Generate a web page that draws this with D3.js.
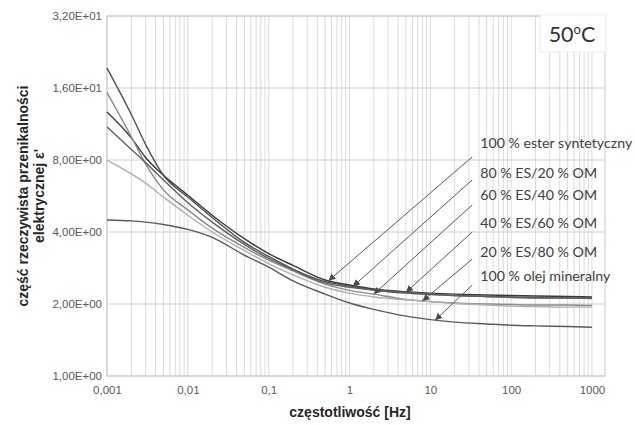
<!DOCTYPE html>
<html>
<head>
<meta charset="utf-8">
<script src="https://cdn.jsdelivr.net/npm/d3@7"></script>
<style>
  body { margin: 0; background: #fff; }
  svg { display: block; }
</style>
</head>
<body>
<div id="chart"></div>
<script>
// frequency points [Hz]
const freqs = [0.001, 0.002, 0.003, 0.005, 0.01, 0.02, 0.05, 0.1, 0.2, 0.5, 1, 2, 5, 10, 20, 50, 100, 200, 500, 1000];

// permittivity values
const ester100 = [12.7, 9.9, 8.2, 6.9, 5.7, 4.7, 3.75, 3.25, 2.9, 2.52, 2.40, 2.31, 2.25, 2.22, 2.20, 2.18, 2.17, 2.16, 2.15, 2.14];
const es80om20 = [19.4, 12.4, 9.3, 6.9, 5.6, 4.6, 3.62, 3.16, 2.8, 2.48, 2.38, 2.29, 2.22, 2.19, 2.17, 2.15, 2.14, 2.13, 2.12, 2.12];
const es60om40 = [15.3, 10.0, 7.7, 6.0, 4.95, 4.15, 3.45, 3.05, 2.75, 2.42, 2.28, 2.20, 2.09, 2.05, 2.02, 2.00, 1.99, 1.98, 1.98, 1.97];
const es40om60 = [11.0, 8.85, 7.8, 6.6, 5.3, 4.4, 3.55, 3.1, 2.78, 2.45, 2.35, 2.29, 2.24, 2.20, 2.17, 2.15, 2.13, 2.12, 2.12, 2.11];
const es20om80 = [8.0, 7.0, 6.4, 5.6, 4.7, 4.0, 3.35, 2.95, 2.65, 2.35, 2.22, 2.14, 2.08, 2.05, 2.01, 1.98, 1.96, 1.95, 1.94, 1.94];
const mineral100 = [4.49, 4.45, 4.4, 4.3, 4.1, 3.8, 3.2, 2.85, 2.5, 2.2, 2.02, 1.9, 1.78, 1.72, 1.68, 1.65, 1.63, 1.62, 1.61, 1.60];

const seriesNames = ["100\u202F% ester syntetyczny", "80\u202F% ES/20\u202F% OM", "60\u202F% ES/40\u202F% OM",
  "40\u202F% ES/60\u202F% OM", "20\u202F% ES/80\u202F% OM", "100\u202F% olej mineralny"];
const seriesValues = [ester100, es80om20, es60om40, es40om60, es20om80, mineral100];
const seriesColors = ["#3a3a3a", "#505050", "#8a8a8a", "#606060", "#b0b0b0", "#5a5a5a"];

// annotation: frequency the arrow points at, label level and arrow start level (in permittivity)
const arrowFreqs = [0.55, 1.1, 2.0, 5.0, 8.0, 11.5];
const labelLevels = [9.42, 7.06, 5.69, 4.37, 3.31, 2.62];
const arrowStartLevels = [8.24, 6.6, 5.19, 4.0, 3.08, 2.4];
const arrowStartFreq = 33;

const xTicks = [0.001, 0.01, 0.1, 1, 10, 100, 1000];
const xTickLabels = ["0,001", "0,01", "0,1", "1", "10", "100", "1000"];
const yTicks = [1, 2, 4, 8, 16, 32];
const yTickLabels = ["1,00E+00", "2,00E+00", "4,00E+00", "8,00E+00", "1,60E+01", "3,20E+01"];

const width = 635, height = 425;
const plot = { left: 107, right: 605, top: 16, bottom: 376 };

const svg = d3.select("#chart").append("svg")
  .attr("width", width)
  .attr("height", height);

const x = d3.scaleLog().domain([0.001, 1450]).range([plot.left, plot.right]);
const y = d3.scaleLog().base(2).domain([1, 32]).range([plot.bottom, plot.top]);

// minor vertical grid
const minor = [];
for (let dec = 0.001; dec < 1500; dec *= 10) {
  for (let m = 1; m <= 9; m++) {
    const v = +(dec * m).toPrecision(3);
    if (v <= 1450) minor.push(v);
  }
}
svg.append("g").selectAll("line")
  .data(minor)
  .join("line")
  .attr("x1", d => x(d)).attr("x2", d => x(d))
  .attr("y1", plot.top).attr("y2", plot.bottom)
  .attr("stroke", "#dadada")
  .attr("stroke-width", 1);

// horizontal grid
svg.append("g").selectAll("line")
  .data(yTicks)
  .join("line")
  .attr("x1", plot.left).attr("x2", plot.right)
  .attr("y1", d => y(d)).attr("y2", d => y(d))
  .attr("stroke", "#cfcfcf")
  .attr("stroke-width", 1.2);

// frame
svg.append("rect")
  .attr("x", plot.left).attr("y", plot.top)
  .attr("width", plot.right - plot.left).attr("height", plot.bottom - plot.top)
  .attr("fill", "none")
  .attr("stroke", "#c8c8c8");

// axes
const xAxis = d3.axisBottom(x).tickValues(xTicks).tickFormat((d, i) => xTickLabels[i]).tickSize(0).tickPadding(10);
const yAxis = d3.axisLeft(y).tickValues(yTicks).tickFormat((d, i) => yTickLabels[i]).tickSize(0).tickPadding(5);

const gx = svg.append("g").attr("transform", `translate(0,${plot.bottom})`).call(xAxis);
const gy = svg.append("g").attr("transform", `translate(${plot.left},0)`).call(yAxis);
[gx, gy].forEach(g => {
  g.select(".domain").remove();
  g.selectAll("text")
    .attr("font-family", "Liberation Sans, Arial, sans-serif")
    .attr("font-size", 11.5)
    .attr("fill", "#595959");
});

// axis titles
svg.append("text")
  .attr("x", (plot.left + plot.right) / 2 - 6)
  .attr("y", 417)
  .attr("text-anchor", "middle")
  .attr("font-family", "Liberation Sans, Arial, sans-serif")
  .attr("font-weight", "bold")
  .attr("font-size", 14)
  .attr("fill", "#262626")
  .text("częstotliwość [Hz]");

const yTitle = svg.append("text")
  .attr("transform", "translate(0,196) rotate(-90)")
  .attr("text-anchor", "middle")
  .attr("font-family", "Liberation Sans, Arial, sans-serif")
  .attr("font-weight", "bold")
  .attr("font-size", 14)
  .attr("fill", "#262626");
yTitle.append("tspan").attr("x", 0).attr("y", 28).text("część rzeczywista przenikalności");
yTitle.append("tspan").attr("x", 0).attr("y", 44).text("elektrycznej ε'");

// curves
const line = d3.line()
  .x(d => x(d.f))
  .y(d => y(d.v))
  .curve(d3.curveMonotoneX);

const series = seriesNames.map((name, i) => ({
  name,
  color: seriesColors[i],
  points: freqs.map((f, j) => ({ f, v: seriesValues[i][j] }))
}));

svg.append("g").selectAll("path")
  .data(series)
  .join("path")
  .attr("d", d => line(d.points))
  .attr("fill", "none")
  .attr("stroke", d => d.color)
  .attr("stroke-width", 1.4);

// value on a series at a frequency (log-log interpolation)
function valueAt(vals, f) {
  const i = d3.bisectRight(freqs, f) - 1;
  const t = (Math.log(f) - Math.log(freqs[i])) / (Math.log(freqs[i + 1]) - Math.log(freqs[i]));
  return Math.exp(Math.log(vals[i]) + t * (Math.log(vals[i + 1]) - Math.log(vals[i])));
}

// arrows and labels
svg.append("defs").append("marker")
  .attr("id", "head")
  .attr("viewBox", "0 0 10 10")
  .attr("refX", 10).attr("refY", 5)
  .attr("markerWidth", 7).attr("markerHeight", 7)
  .attr("markerUnits", "userSpaceOnUse")
  .attr("orient", "auto")
  .append("path")
  .attr("d", "M0,0L10,5L0,10z")
  .attr("fill", "#4a4a4a");

const notes = seriesNames.map((name, i) => ({
  name,
  x0: x(arrowStartFreq), y0: y(arrowStartLevels[i]),
  x1: x(arrowFreqs[i]), y1: y(valueAt(seriesValues[i], arrowFreqs[i])),
  ly: y(labelLevels[i])
}));

svg.append("g").selectAll("line")
  .data(notes)
  .join("line")
  .attr("x1", d => d.x0).attr("y1", d => d.y0)
  .attr("x2", d => d.x1).attr("y2", d => d.y1)
  .attr("stroke", "#5a5a5a")
  .attr("stroke-width", 1)
  .attr("marker-end", "url(#head)");

svg.append("g").selectAll("text")
  .data(notes)
  .join("text")
  .attr("x", d => d.x0 + 8)
  .attr("y", d => d.ly)
  .attr("dy", "0.35em")
  .attr("font-family", "Lato, Open Sans, sans-serif")
  .attr("font-size", 14.2)
  .attr("fill", "#404040")
  .text(d => d.name);

// temperature box
svg.append("rect")
  .attr("x", 540).attr("y", 15)
  .attr("width", 66).attr("height", 37)
  .attr("fill", "#fff")
  .attr("stroke", "#ececec");

const temp = svg.append("text")
  .attr("x", 572).attr("y", 42)
  .attr("text-anchor", "middle")
  .attr("font-family", "Lato, Open Sans, sans-serif")
  .attr("font-size", 21.5)
  .attr("fill", "#333");
temp.append("tspan").text("50");
temp.append("tspan").attr("font-size", 13).attr("dy", -8).text("o");
temp.append("tspan").attr("dy", 8).text("C");
</script>
</body>
</html>
